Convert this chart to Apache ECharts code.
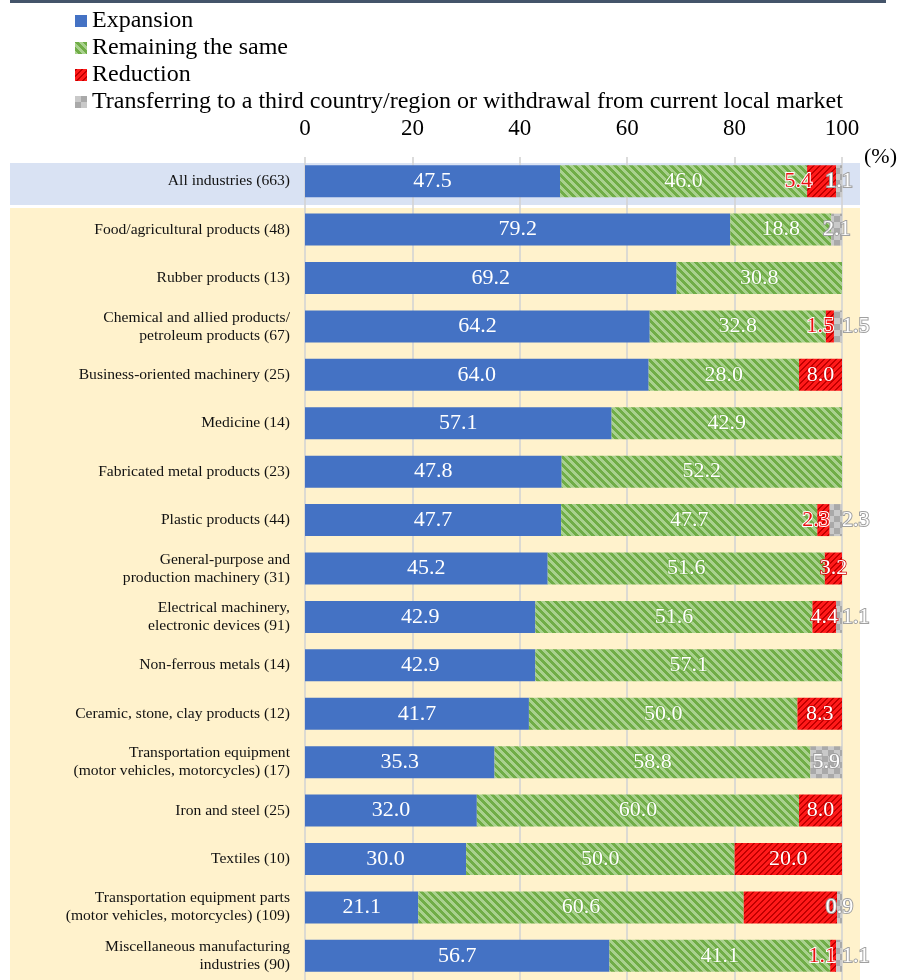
<!DOCTYPE html>
<html>
<head>
<meta charset="utf-8">
<script src="https://cdn.jsdelivr.net/npm/echarts@6/dist/echarts.min.js"></script>
<style>
  html, body { margin: 0; padding: 0; background: #ffffff; }
  #chart { width: 902px; height: 980px; }
</style>
</head>
<body>
<div id="chart"></div>
<script>
// Survey categories (number of respondents in brackets)
const categories = [
  'All industries (663)',
  'Food/agricultural products (48)',
  'Rubber products (13)',
  'Chemical and allied products/\npetroleum products (67)',
  'Business-oriented machinery (25)',
  'Medicine (14)',
  'Fabricated metal products (23)',
  'Plastic products (44)',
  'General-purpose and\nproduction machinery (31)',
  'Electrical machinery,\nelectronic devices (91)',
  'Non-ferrous metals (14)',
  'Ceramic, stone, clay products (12)',
  'Transportation equipment\n(motor vehicles, motorcycles) (17)',
  'Iron and steel (25)',
  'Textiles (10)',
  'Transportation equipment parts\n(motor vehicles, motorcycles) (109)',
  'Miscellaneous manufacturing\nindustries (90)'
];

// Shares in percent
const expansion = [47.5, 79.2, 69.2, 64.2, 64.0, 57.1, 47.8, 47.7, 45.2, 42.9, 42.9, 41.7, 35.3, 32.0, 30.0, 21.1, 56.7];
const remaining = [46.0, 18.8, 30.8, 32.8, 28.0, 42.9, 52.2, 47.7, 51.6, 51.6, 57.1, 50.0, 58.8, 60.0, 50.0, 60.6, 41.1];
const reduction = [5.4, 0, 0, 1.5, 8.0, 0, 0, 2.3, 3.2, 4.4, 0, 8.3, 0, 8.0, 20.0, 17.4, 1.1];
const transfer  = [1.1, 2.1, 0, 1.5, 0, 0, 0, 2.3, 0, 1.1, 0, 0, 5.9, 0, 0, 0.9, 1.1];

const seriesNames = [
  'Expansion',
  'Remaining the same',
  'Reduction',
  'Transferring to a third country/region or withdrawal from current local market'
];
const axisTicks = [0, 20, 40, 60, 80, 100];

// Reduction shares whose value label is not printed
const unlabelledReduction = ['Transportation equipment parts\n(motor vehicles, motorcycles) (109)'];

const SERIF = "'Liberation Serif', 'Times New Roman', serif";

// Pixel-tile fills: diagonal hatching and checkerboard
function pixelPattern(size, pick) {
  const c = document.createElement('canvas');
  c.width = size; c.height = size;
  const g = c.getContext('2d');
  for (let y = 0; y < size; y++) {
    for (let x = 0; x < size; x++) {
      g.fillStyle = pick(x, y);
      g.fillRect(x, y, 1, 1);
    }
  }
  return { image: c, repeat: 'repeat' };
}
const greenFill = pixelPattern(8, (x, y) => ((x - y + 16) % 8) < 4 ? '#70ad47' : '#a9d18e');
const redFill = pixelPattern(6, (x, y) => ((x + y) % 6) < 2 ? '#c00000' : '#ff1a1a');
const grayFill = pixelPattern(12, (x, y) => ((Math.floor(x / 6) + Math.floor(y / 6)) % 2) ? '#a9a9a9' : '#c9c9c9');

const fmt = v => (v ? v.toFixed(1) : '');

const baseLabel = {
  show: true,
  fontFamily: SERIF,
  fontSize: 22,
  color: '#ffffff',
  formatter: p => fmt(p.value)
};

function grayLabelRight(i) {
  return reduction[i] > 0 && reduction[i] < 5;
}

const expansionData = expansion.map(v => ({ value: v }));
const remainingData = remaining.map(v => ({ value: v }));

const reductionData = reduction.map((v, i) => {
  const item = { value: v };
  if (!v || unlabelledReduction.includes(categories[i])) {
    item.label = { show: false };
  } else if (v < 3) {
    item.label = { position: 'insideRight', distance: 0, color: '#e81010', textBorderColor: '#ffffff', textBorderWidth: 2 };
  } else if (transfer[i] > 0 && !grayLabelRight(i) && v < 10) {
    item.label = { position: 'left', distance: -5, color: '#e81010', textBorderColor: '#ffffff', textBorderWidth: 2 };
  }
  return item;
});

const transferData = transfer.map((v, i) => {
  const item = { value: v };
  if (!v) item.label = { show: false };
  else if (grayLabelRight(i)) item.label = { position: 'right', distance: 0 };
  return item;
});

const chart = echarts.init(document.getElementById('chart'), null, { renderer: 'canvas' });

chart.setOption({
  animation: false,
  backgroundColor: '#ffffff',
  graphic: [
    { type: 'rect', z: -20, shape: { x: 10, y: 0, width: 876, height: 3 }, style: { fill: '#44546a' } },
    { type: 'rect', z: -20, shape: { x: 10, y: 163, width: 850, height: 42 }, style: { fill: '#d9e2f3' } },
    { type: 'rect', z: -20, shape: { x: 10, y: 208, width: 850, height: 780 }, style: { fill: '#fff2cc' } }
  ],
  legend: {
    orient: 'vertical',
    left: 75,
    top: 9,
    padding: 0,
    icon: 'rect',
    itemWidth: 12,
    itemHeight: 12,
    itemGap: 3,
    selectedMode: false,
    data: seriesNames,
    textStyle: { fontFamily: SERIF, fontSize: 24, color: '#000000', lineHeight: 24 }
  },
  grid: { left: 305, width: 537, top: 157, height: 824, containLabel: false },
  xAxis: {
    type: 'value',
    position: 'top',
    min: 0,
    max: 100,
    interval: 20,
    axisLine: { show: false },
    axisTick: { show: false },
    axisLabel: {
      fontFamily: SERIF, fontSize: 23, color: '#000000', margin: 17,
      formatter: v => (axisTicks.includes(v) ? String(v) : '')
    },
    splitLine: { show: true, lineStyle: { color: '#d4d4d4', width: 1.6 } },
    name: '(%)',
    nameLocation: 'end',
    nameGap: 22,
    nameTextStyle: { fontFamily: SERIF, fontSize: 22, color: '#000000', padding: [14, 0, 0, 0] }
  },
  yAxis: {
    type: 'category',
    inverse: true,
    data: categories,
    axisLine: { show: false },
    axisTick: { show: false },
    axisLabel: {
      fontFamily: SERIF, fontSize: 15.6, color: '#111111', margin: 15, lineHeight: 18, align: 'right'
    }
  },
  series: [
    {
      name: seriesNames[0], type: 'bar', stack: 'total', barWidth: 32,
      itemStyle: { color: '#4472c4' },
      label: Object.assign({}, baseLabel),
      data: expansionData
    },
    {
      name: seriesNames[1], type: 'bar', stack: 'total', barWidth: 32,
      itemStyle: { color: greenFill },
      label: Object.assign({}, baseLabel, { textBorderColor: 'rgba(112,173,71,0.9)', textBorderWidth: 1.5 }),
      data: remainingData
    },
    {
      name: seriesNames[2], type: 'bar', stack: 'total', barWidth: 32,
      itemStyle: { color: redFill },
      label: Object.assign({}, baseLabel, { textBorderColor: '#d00000', textBorderWidth: 1.5 }),
      data: reductionData
    },
    {
      name: seriesNames[3], type: 'bar', stack: 'total', barWidth: 32,
      itemStyle: { color: grayFill },
      label: Object.assign({}, baseLabel, { textBorderColor: '#a0a0a0', textBorderWidth: 2 }),
      data: transferData
    }
  ]
});
</script>
</body>
</html>
